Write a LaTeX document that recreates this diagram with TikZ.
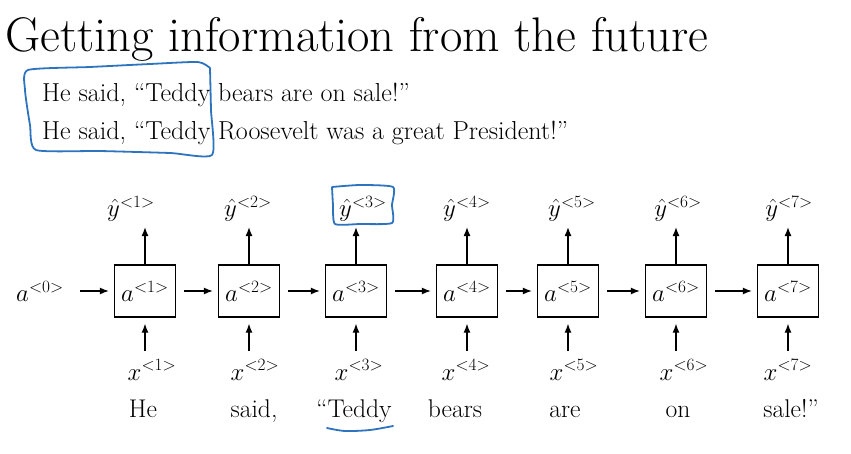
\documentclass[tikz,border=0pt]{standalone}
\usepackage{amsmath}
\usepackage{amsfonts}
\usetikzlibrary{arrows.meta}
\definecolor{penblue}{RGB}{45,115,190}

\begin{document}
\begin{tikzpicture}[x=1pt, y=-1pt, >={Latex[length=9pt,width=7pt]}]
  \tikzset{cell/.style={draw, line width=1.3pt, minimum width=61pt, minimum height=52pt, inner sep=0pt, font=\fontsize{24}{28}\selectfont},
    lbl/.style={anchor=base, inner sep=0pt, font=\fontsize{24}{28}\selectfont},
    word/.style={lbl, font=\fontsize{25.6}{30}\selectfont},
    line/.style={anchor=base west, inner sep=0pt, font=\fontsize{26}{30}\selectfont},
    link/.style={line width=1.3pt, ->},
    ink/.style={penblue, line width=1.8pt, line cap=round, line join=round}}
  \useasboundingbox (0,0) rectangle (851,454);
  \node [anchor=base west, inner sep=0pt, font=\fontsize{48.6}{56}\selectfont] (title) at (5,52) {Getting information from the future};
  \node [line] (s1) at (42,102) {He said, “Teddy bears are on sale!”};
  \node [line] (s2) at (42,140) {He said, “Teddy Roosevelt was a great President!”};
  \foreach \i/\cx/\yx/\xx/\wx/\word in {1/145/131/152/143/He, 2/249/248/255/254/{said,}, 3/356/363/359/354/{“Teddy}, 4/467/467/466/455/bears, 5/568/572/574/565/are, 6/676/678/684/678/on, 7/788/789/788/791/{sale!”}} {
    \node [cell] (a\i) at (\cx,291) {$a^{<\i>}$};
    \node [lbl] (y\i) at (\yx,217) {$\hat{y}^{<\i>}$};
    \node [lbl] (x\i) at (\xx,380) {$x^{<\i>}$};
    \node [word] (w\i) at (\wx,417) {\word};
    \draw [link, shorten >=5pt] (a\i.north) -- (a\i.north |- y\i.south);
    \draw [link, shorten <=9pt, shorten >=6pt] (a\i.south |- x\i.north) -- (a\i.south);
  }
  \node [lbl, anchor=center] (a0) at (40,291) {$a^{<0>}$};
  \draw [link, shorten <=16pt, shorten >=5pt] (a0.east) -- (a1.west);
  \foreach \i in {1,...,6} {
    \pgfmathtruncatemacro{\j}{\i+1}
    \draw [link, shorten <=8pt, shorten >=5pt] (a\i.east) -- (a\j.west);
  }
  % pen marks
  \draw [ink] plot [smooth, tension=0.35] coordinates {(210,68) (198,62) (150,64) (90,67) (28,70) (25,90) (30,125) (36,150) (100,151) (170,153) (212,155) (211,110) (210,68)};
  \draw [ink] plot [smooth, tension=0.35] coordinates {(332,187) (360,185) (393,187) (392,205) (392,223) (360,224) (335,224) (333,205) (332,187)};
  \draw [ink] plot [smooth] coordinates {(327,428) (345,431) (370,430) (393,426)};
\end{tikzpicture}
\end{document}
